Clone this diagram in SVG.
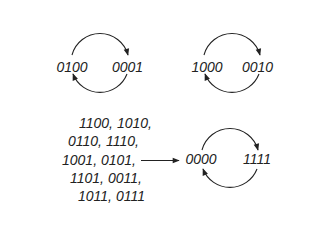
<svg xmlns="http://www.w3.org/2000/svg" width="326" height="240" viewBox="0 0 326 240">
<style>
text{font-family:"Liberation Sans",Arial,sans-serif;font-size:14px;font-style:italic;fill:#222}
.c{fill:none;stroke:#222;stroke-width:1.1}
</style>
<defs>
<marker id="ah" viewBox="0 0 10 10" refX="9" refY="5" markerWidth="8" markerHeight="7" markerUnits="userSpaceOnUse" orient="auto">
<path d="M0,1 L10,5 L0,9 Z" fill="#222"/>
</marker>
</defs>
<rect width="326" height="240" fill="#fff"/>
<g id="connectors">
<path class="c" d="M72,55 A29,29 0 0 1 128,55" marker-end="url(#ah)"/>
<path class="c" d="M127,74 A29,29 0 0 1 73,74" marker-end="url(#ah)"/>
<path class="c" d="M204,55 A29,29 0 0 1 260,55" marker-end="url(#ah)"/>
<path class="c" d="M259,74 A29,29 0 0 1 205,74" marker-end="url(#ah)"/>
<path class="c" d="M202,150 A29,29 0 0 1 258,150" marker-end="url(#ah)"/>
<path class="c" d="M257,169 A29,29 0 0 1 203,169" marker-end="url(#ah)"/>
<path class="c" d="M141,160.5 L179,160.5" marker-end="url(#ah)"/>
</g>
<g id="n0100"><text x="72" y="72" text-anchor="middle">0100</text></g>
<g id="n0001"><text x="127.5" y="72" text-anchor="middle">0001</text></g>
<g id="n1000"><text x="207" y="72" text-anchor="middle">1000</text></g>
<g id="n0010"><text x="257.5" y="72" text-anchor="middle">0010</text></g>
<g id="n0000"><text x="201" y="164" text-anchor="middle">0000</text></g>
<g id="n1111"><text x="257" y="164" text-anchor="middle">1111</text></g>
<g id="others">
<text x="79" y="127.5">1100, 1010,</text>
<text x="68" y="146">0110, 1110,</text>
<text x="62" y="164.5">1001, 0101,</text>
<text x="70" y="183">1101, 0011,</text>
<text x="78" y="201">1011, 0111</text>
</g>
</svg>
